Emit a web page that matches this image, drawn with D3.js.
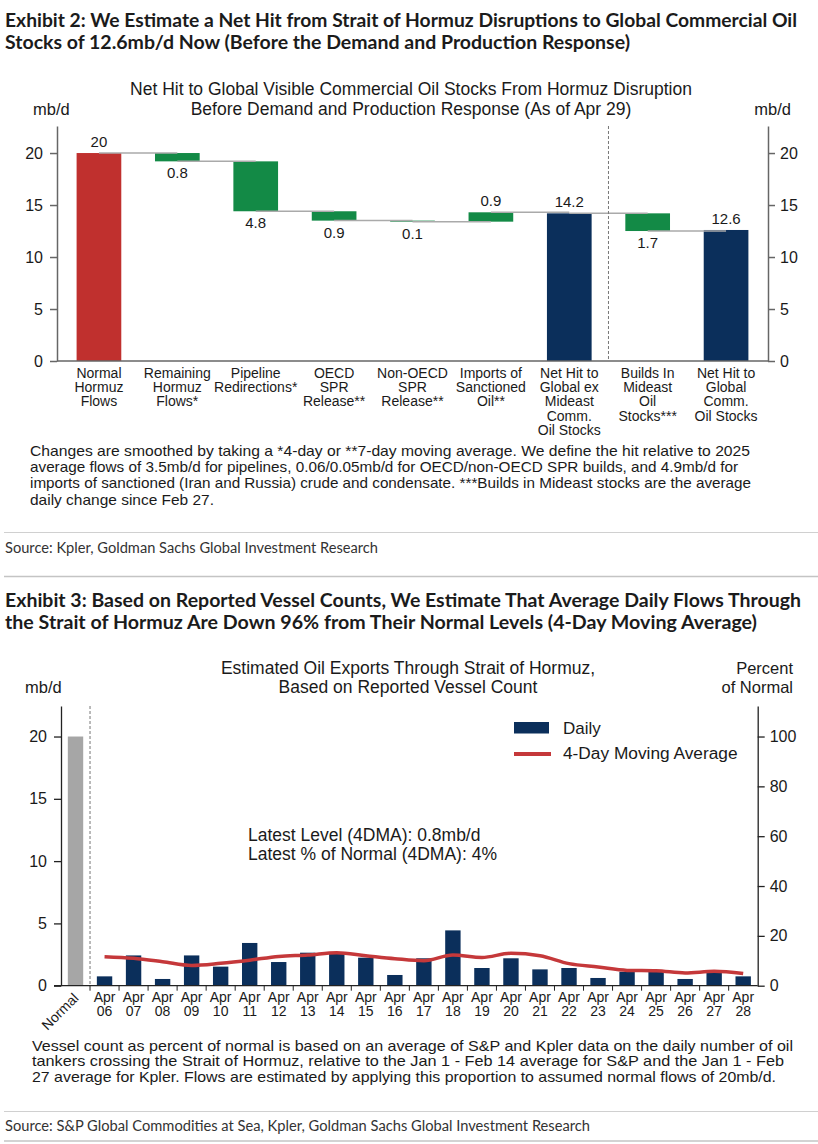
<!DOCTYPE html>
<html>
<head>
<meta charset="utf-8">
<script src="https://cdn.jsdelivr.net/npm/d3@7"></script>
<style>
    body { margin: 0; background: #fff; }
    text { font-family: "Liberation Sans", Arial, sans-serif; fill: #1a1a1a; }
    .head { font-family: Lato, "Open Sans", sans-serif; font-weight: 700; fill: #1b1b1b; }
    .src { font-family: Lato, "Open Sans", sans-serif; fill: #333; }
</style>
</head>
<body>
<svg id="page" width="818" height="1144"></svg>
<script>
// Exhibit 2 data: waterfall of the hit to commercial stocks (mb/d)
var wfCategories = [
    ["Normal", "Hormuz", "Flows"],
    ["Remaining", "Hormuz", "Flows*"],
    ["Pipeline", "Redirections*"],
    ["OECD", "SPR", "Release**"],
    ["Non-OECD", "SPR", "Release**"],
    ["Imports of", "Sanctioned", "Oil**"],
    ["Net Hit to", "Global ex", "Mideast", "Comm.", "Oil Stocks"],
    ["Builds In", "Mideast", "Oil", "Stocks***"],
    ["Net Hit to", "Global", "Comm.", "Oil Stocks"]
];
var wfValues = [20, -0.8, -4.8, -0.9, -0.1, 0.9, 14.2, -1.7, 12.6];
var wfIsTotal = [true, false, false, false, false, false, true, false, true];
var wfTicks = [0, 5, 10, 15, 20];

// Exhibit 3 data: flows through Hormuz (mb/d)
var dayLabels = ["06", "07", "08", "09", "10", "11", "12", "13", "14", "15", "16", "17",
                 "18", "19", "20", "21", "22", "23", "24", "25", "26", "27", "28"];
var normalFlow = 20;
var dailyFlows = [0.75, 2.43, 0.54, 2.43, 1.53, 3.43, 1.9, 2.65, 2.6, 2.25, 0.86, 2.2,
                  4.44, 1.42, 2.2, 1.31, 1.42, 0.62, 1.12, 1.12, 0.54, 1.05, 0.75];
var movingAvg = [2.33, 2.2, 1.93, 1.63, 1.8, 2.05, 2.35, 2.46, 2.65, 2.41, 2.17, 2.0,
                 2.46, 2.27, 2.6, 2.41, 1.77, 1.5, 1.23, 1.2, 1.02, 1.15, 0.97];
var flowTicks = [0, 5, 10, 15, 20];
var pctTicks = [0, 20, 40, 60, 80, 100];

var svg = d3.select("#page");

// helper for blocks of text lines (textLength keeps the line breaks where the original has them)
function textLines(g, lines, x, y0, lineStep, cls, size, widths) {
    lines.forEach(function (t, i) {
        var el = g.append("text")
            .attr("x", x)
            .attr("y", y0 + i * lineStep)
            .attr("font-size", size)
            .text(t);
        if (cls) el.attr("class", cls);
        if (widths && widths[i]) {
            el.attr("textLength", widths[i]).attr("lengthAdjust", "spacingAndGlyphs");
        }
    });
}

/* ============ EXHIBIT 2 ============ */
var ex2 = svg.append("g");

textLines(ex2, [
    "Exhibit 2: We Estimate a Net Hit from Strait of Hormuz Disruptions to Global Commercial Oil",
    "Stocks of 12.6mb/d Now (Before the Demand and Production Response)"
], 5, 26.5, 22, "head", 18.5, [792, 625]);

ex2.append("text").attr("x", 411).attr("y", 95).attr("text-anchor", "middle").attr("font-size", 17.5)
    .text("Net Hit to Global Visible Commercial Oil Stocks From Hormuz Disruption");
ex2.append("text").attr("x", 411).attr("y", 115).attr("text-anchor", "middle").attr("font-size", 17.5)
    .text("Before Demand and Production Response (As of Apr 29)");
ex2.append("text").attr("x", 33).attr("y", 115).attr("font-size", 16.5).text("mb/d");
ex2.append("text").attr("x", 791).attr("y", 115).attr("text-anchor", "end").attr("font-size", 16.5).text("mb/d");

var x1 = d3.scaleBand()
    .domain(d3.range(wfValues.length))
    .range([57, 768])
    .paddingInner(0.43)
    .paddingOuter(0.25);
var y1 = d3.scaleLinear().domain([0, 22.6]).range([361, 126]);

// work out the floating pieces
var steps = [];
var level = 0;
wfValues.forEach(function (v, i) {
    var from, to;
    if (wfIsTotal[i]) {
        from = 0; to = v;
    } else {
        from = level; to = level + v;
    }
    level = to;
    steps.push({ i: i, v: v, lo: Math.min(from, to), hi: Math.max(from, to), end: to, total: wfIsTotal[i] });
});

ex2.append("g").selectAll("rect")
    .data(steps)
    .enter().append("rect")
    .attr("x", function (d) { return x1(d.i); })
    .attr("width", x1.bandwidth())
    .attr("y", function (d) { return y1(d.hi); })
    .attr("height", function (d) { return y1(d.lo) - y1(d.hi); })
    .attr("fill", function (d) {
        if (d.i === 0) return "#c0302e";
        return d.total ? "#0b2f5b" : "#138a46";
    });

// connectors between the pieces
var half = x1.bandwidth() / 2;
ex2.append("g").selectAll("line")
    .data(steps.slice(0, steps.length - 1))
    .enter().append("line")
    .attr("x1", function (d) { return x1(d.i) + half; })
    .attr("x2", function (d) { return x1(d.i + 1) + half; })
    .attr("y1", function (d) { return y1(d.end); })
    .attr("y2", function (d) { return y1(d.end); })
    .attr("stroke", "#aaa")
    .attr("stroke-width", 1.5);

// value labels
ex2.append("g").selectAll("text")
    .data(steps)
    .enter().append("text")
    .attr("x", function (d) { return x1(d.i) + half; })
    .attr("y", function (d) {
        return (!d.total && d.v < 0) ? y1(d.lo) + 17 : y1(d.hi) - 6;
    })
    .attr("text-anchor", "middle")
    .attr("font-size", 15)
    .text(function (d) {
        return Number.isInteger(d.v) ? d.v : Math.abs(d.v).toFixed(1);
    });

// separator before the Mideast builds
var sepX = x1(6) + x1.bandwidth() + (x1.step() - x1.bandwidth()) / 2;
ex2.append("line")
    .attr("x1", sepX).attr("x2", sepX)
    .attr("y1", 126).attr("y2", 361)
    .attr("stroke", "#777").attr("stroke-width", 1)
    .attr("stroke-dasharray", "3,2");

// axes
var axL1 = ex2.append("g").attr("transform", "translate(57,0)")
    .call(d3.axisLeft(y1).tickValues(wfTicks).tickSize(7).tickSizeOuter(0).tickPadding(7));
var axR1 = ex2.append("g").attr("transform", "translate(768,0)")
    .call(d3.axisRight(y1).tickValues(wfTicks).tickSize(7).tickSizeOuter(0).tickPadding(5));
[axL1, axR1].forEach(function (ax) {
    ax.attr("font-size", 16).attr("font-family", "Liberation Sans, Arial, sans-serif").attr("color", "#666");
    ax.selectAll("path, line").attr("stroke-width", 1.5);
    ax.selectAll("text").attr("fill", "#1a1a1a");
});
ex2.append("line")
    .attr("x1", 57).attr("x2", 768)
    .attr("y1", y1(0)).attr("y2", y1(0))
    .attr("stroke", "#666").attr("stroke-width", 1.5);

// category labels
var catG = ex2.append("g").selectAll("text")
    .data(wfCategories)
    .enter().append("text")
    .attr("text-anchor", "middle")
    .attr("font-size", 14);
catG.selectAll("tspan")
    .data(function (d, i) { return d.map(function (t, k) { return { t: t, k: k, i: i }; }); })
    .enter().append("tspan")
    .attr("x", function (d) { return x1(d.i) + half; })
    .attr("y", function (d) { return 377.5 + d.k * 14.4; })
    .text(function (d) { return d.t; });

textLines(ex2, [
    "Changes are smoothed by taking a *4-day or **7-day moving average. We define the hit relative to 2025",
    "average flows of 3.5mb/d for pipelines, 0.06/0.05mb/d for OECD/non-OECD SPR builds, and 4.9mb/d for",
    "imports of sanctioned (Iran and Russia) crude and condensate. ***Builds in Mideast stocks are the average",
    "daily change since Feb 27."
], 30, 456, 16.2, null, 15, [720, 708, 721, 184]);

ex2.append("line").attr("x1", 4).attr("x2", 818).attr("y1", 532.5).attr("y2", 532.5)
    .attr("stroke", "#d0d0d0").attr("stroke-width", 1.2);
textLines(ex2, ["Source: Kpler, Goldman Sachs Global Investment Research"], 5, 553, 0, "src", 14.5, [373]);
ex2.append("line").attr("x1", 4).attr("x2", 818).attr("y1", 576.5).attr("y2", 576.5)
    .attr("stroke", "#c4c4c4").attr("stroke-width", 1.5);

/* ============ EXHIBIT 3 ============ */
var ex3 = svg.append("g");

textLines(ex3, [
    "Exhibit 3: Based on Reported Vessel Counts, We Estimate That Average Daily Flows Through",
    "the Strait of Hormuz Are Down 96% from Their Normal Levels (4-Day Moving Average)"
], 5, 606.5, 22, "head", 18.5, [796, 752]);

ex3.append("text").attr("x", 408).attr("y", 673.5).attr("text-anchor", "middle").attr("font-size", 17.5)
    .text("Estimated Oil Exports Through Strait of Hormuz,");
ex3.append("text").attr("x", 408).attr("y", 693).attr("text-anchor", "middle").attr("font-size", 17.5)
    .text("Based on Reported Vessel Count");
ex3.append("text").attr("x", 25).attr("y", 693).attr("font-size", 16.5).text("mb/d");
ex3.append("text").attr("x", 793).attr("y", 673.5).attr("text-anchor", "end").attr("font-size", 16.5).text("Percent");
ex3.append("text").attr("x", 793).attr("y", 693).attr("text-anchor", "end").attr("font-size", 16.5).text("of Normal");

var x2 = d3.scaleBand()
    .domain(["Normal"].concat(dayLabels))
    .range([61, 757.7])
    .paddingInner(0.47)
    .paddingOuter(0.235);
var y2 = d3.scaleLinear().domain([0, 22.45]).range([985.7, 706]);
var y2pct = d3.scaleLinear().domain([0, 112.25]).range([985.7, 706]);
var half2 = x2.bandwidth() / 2;
var gap2 = (x2.step() - x2.bandwidth()) / 2;

// normal bar
ex3.append("rect")
    .attr("x", x2("Normal"))
    .attr("width", x2.bandwidth())
    .attr("y", y2(normalFlow))
    .attr("height", y2(0) - y2(normalFlow))
    .attr("fill", "#a6a6a6");

// daily bars
ex3.append("g").selectAll("rect")
    .data(dailyFlows)
    .enter().append("rect")
    .attr("x", function (d, i) { return x2(dayLabels[i]); })
    .attr("width", x2.bandwidth())
    .attr("y", function (d) { return y2(d); })
    .attr("height", function (d) { return y2(0) - y2(d); })
    .attr("fill", "#0b2f5b");

// 4-day moving average
var maLine = d3.line()
    .x(function (d, i) { return x2(dayLabels[i]) + half2; })
    .y(function (d) { return y2(d); })
    .curve(d3.curveMonotoneX);
ex3.append("path")
    .datum(movingAvg)
    .attr("d", maLine)
    .attr("fill", "none")
    .attr("stroke", "#c5383a")
    .attr("stroke-width", 3.5)
    .attr("stroke-linejoin", "round");

// dashed separator after the normal bar
var sep2 = x2(dayLabels[0]) - gap2;
ex3.append("line")
    .attr("x1", sep2).attr("x2", sep2)
    .attr("y1", 706).attr("y2", y2(0))
    .attr("stroke", "#777").attr("stroke-width", 1)
    .attr("stroke-dasharray", "3,2");

// axes
var axL2 = ex3.append("g").attr("transform", "translate(61,0)")
    .call(d3.axisLeft(y2).tickValues(flowTicks).tickSize(7).tickSizeOuter(0).tickPadding(7));
var axR2 = ex3.append("g").attr("transform", "translate(757.7,0)")
    .call(d3.axisRight(y2pct).tickValues(pctTicks).tickSize(7).tickSizeOuter(0).tickPadding(5));
[axL2, axR2].forEach(function (ax) {
    ax.attr("font-size", 16).attr("font-family", "Liberation Sans, Arial, sans-serif").attr("color", "#222");
    ax.selectAll("path, line").attr("stroke-width", 1.3);
    ax.selectAll("text").attr("fill", "#1a1a1a");
});
ex3.append("line")
    .attr("x1", 54).attr("x2", 757.7)
    .attr("y1", y2(0)).attr("y2", y2(0))
    .attr("stroke", "#222").attr("stroke-width", 1.3);

// small ticks between the days
ex3.append("g").selectAll("line")
    .data(dayLabels)
    .enter().append("line")
    .attr("x1", function (d) { return x2(d) - gap2; })
    .attr("x2", function (d) { return x2(d) - gap2; })
    .attr("y1", y2(0)).attr("y2", y2(0) + 5)
    .attr("stroke", "#222").attr("stroke-width", 1);

// day labels
var dayG = ex3.append("g").selectAll("text")
    .data(dayLabels)
    .enter().append("text")
    .attr("text-anchor", "middle")
    .attr("font-size", 14);
dayG.append("tspan")
    .attr("x", function (d) { return x2(d) + half2; })
    .attr("y", 1001.5)
    .text("Apr");
dayG.append("tspan")
    .attr("x", function (d) { return x2(d) + half2; })
    .attr("y", 1016)
    .text(function (d) { return d; });

var nx = x2("Normal") + half2 + 4;
ex3.append("text")
    .attr("transform", "translate(" + nx + ",999) rotate(-45)")
    .attr("text-anchor", "end")
    .attr("font-size", 14)
    .text("Normal");

// legend
ex3.append("rect").attr("x", 514).attr("y", 722).attr("width", 35).attr("height", 11.5).attr("fill", "#0b2f5b");
ex3.append("text").attr("x", 563).attr("y", 734).attr("font-size", 17).text("Daily");
ex3.append("line").attr("x1", 514).attr("x2", 551).attr("y1", 754).attr("y2", 754)
    .attr("stroke", "#c5383a").attr("stroke-width", 4);
ex3.append("text").attr("x", 563).attr("y", 759).attr("font-size", 17.3).text("4-Day Moving Average");

// annotation
ex3.append("text").attr("x", 248).attr("y", 841).attr("font-size", 17.5).text("Latest Level (4DMA): 0.8mb/d");
ex3.append("text").attr("x", 248).attr("y", 860).attr("font-size", 17.5).text("Latest % of Normal (4DMA): 4%");

textLines(ex3, [
    "Vessel count as percent of normal is based on an average of S&P and Kpler data on the daily number of oil",
    "tankers crossing the Strait of Hormuz, relative to the Jan 1 - Feb 14 average for S&P and the Jan 1 - Feb",
    "27 average for Kpler. Flows are estimated by applying this proportion to assumed normal flows of 20mb/d."
], 32, 1050.5, 15.8, null, 15, [761, 752, 744]);

ex3.append("line").attr("x1", 4).attr("x2", 818).attr("y1", 1111.5).attr("y2", 1111.5)
    .attr("stroke", "#d0d0d0").attr("stroke-width", 1.2);
textLines(ex3, ["Source: S&P Global Commodities at Sea, Kpler, Goldman Sachs Global Investment Research"],
    5, 1131, 0, "src", 14.5, [585]);
ex3.append("line").attr("x1", 4).attr("x2", 818).attr("y1", 1141).attr("y2", 1141)
    .attr("stroke", "#c4c4c4").attr("stroke-width", 1.5);
</script>
</body>
</html>
